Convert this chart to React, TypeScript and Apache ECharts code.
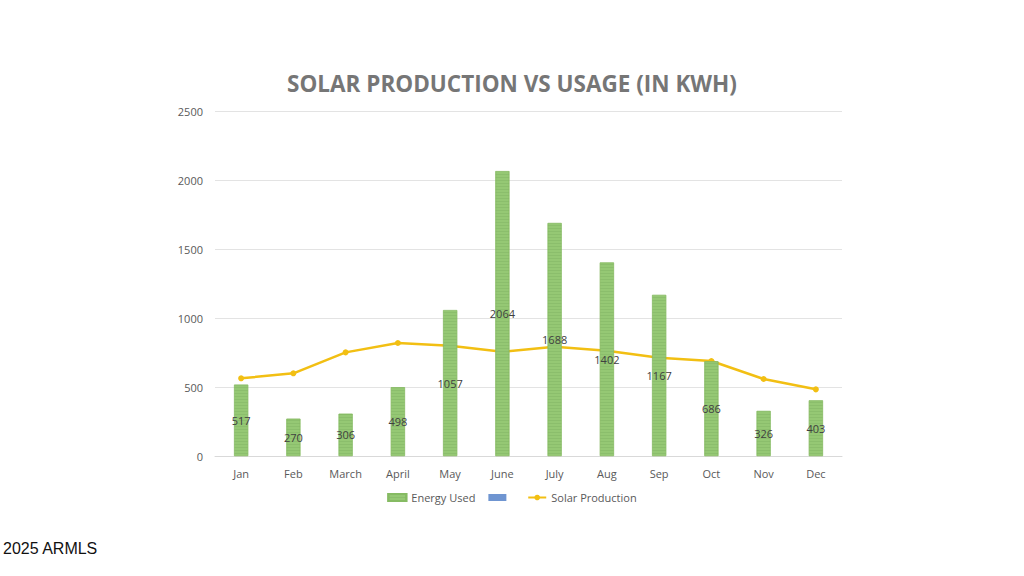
import React, { useEffect, useRef } from 'react';
import * as echarts from 'echarts';

const months = ['Jan', 'Feb', 'March', 'April', 'May', 'June', 'July', 'Aug', 'Sep', 'Oct', 'Nov', 'Dec'];
const energyUsed = [517, 270, 306, 498, 1057, 2064, 1688, 1402, 1167, 686, 326, 403];
const solarProduction = [563, 599, 751, 819, 799, 756, 792, 763, 712, 688, 558, 483];

const App: React.FC = () => {
  const chartRef = useRef<HTMLDivElement>(null);

  useEffect(() => {
    if (!chartRef.current) return;
    const chart = echarts.init(chartRef.current, null, { renderer: 'svg' });

    chart.setOption({
      animation: false,
      backgroundColor: '#ffffff',
      title: {
        text: 'SOLAR PRODUCTION VS USAGE (IN KWH)',
        left: 'center',
        top: 67,
        textStyle: {
          fontFamily: 'Open Sans',
          fontWeight: 'bold',
          fontSize: 22.5,
          color: '#767676',
        },
      },
      grid: { left: 215, right: 182, top: 111, bottom: 120 },
      legend: {
        bottom: 68,
        left: 'center',
        itemWidth: 18,
        itemHeight: 7,
        itemGap: 13,
        textStyle: { fontFamily: 'Open Sans', fontSize: 11, color: '#595959' },
        data: [
          { name: 'Energy Used', icon: 'rect' },
          { name: ' ', icon: 'rect' },
          { name: 'Solar Production' },
        ],
      },
      xAxis: {
        type: 'category',
        data: months,
        axisTick: { show: false },
        axisLine: { lineStyle: { color: '#d9d9d9' } },
        axisLabel: { fontFamily: 'Open Sans', fontSize: 11, color: '#595959', margin: 12 },
      },
      yAxis: {
        type: 'value',
        min: 0,
        max: 2500,
        interval: 500,
        axisLabel: {
          fontFamily: 'Open Sans',
          fontSize: 11,
          color: '#595959',
          margin: 12,
          formatter: (v: number) => String(v),
        },
        splitLine: { lineStyle: { color: '#e3e3e3' } },
      },
      series: [
        {
          name: 'Energy Used',
          type: 'bar',
          data: energyUsed,
          barWidth: 14,
          itemStyle: {
            color: '#95c874',
            borderColor: '#86bb63',
            borderWidth: 0.5,
            decal: {
              symbol: 'rect',
              dashArrayX: [1, 0],
              dashArrayY: [1, 2],
              color: 'rgba(120,170,90,0.35)',
            },
          },
          label: {
            show: true,
            position: 'inside',
            fontFamily: 'Open Sans',
            fontSize: 11,
            color: '#404040',
          },
        },
        {
          name: ' ',
          type: 'line',
          data: [],
          itemStyle: { color: '#6f95d1' },
          lineStyle: { color: '#6f95d1' },
        },
        {
          name: 'Solar Production',
          type: 'line',
          data: solarProduction,
          symbol: 'circle',
          symbolSize: 6,
          itemStyle: { color: '#f2bf13' },
          lineStyle: { color: '#f2bf13', width: 2.5 },
          z: 1,
        },
      ],
      graphic: [
        {
          type: 'text',
          left: 3,
          top: 540,
          style: {
            text: '2025 ARMLS',
            font: '16px "Liberation Sans", Arial',
            fill: '#111111',
          },
        },
      ],
    });

    return () => {
      chart.dispose();
    };
  }, []);

  return (
    <div
      ref={chartRef}
      style={{ position: 'fixed', left: 0, top: 0, width: '1024px', height: '576px' }}
    />
  );
};

export default App;
